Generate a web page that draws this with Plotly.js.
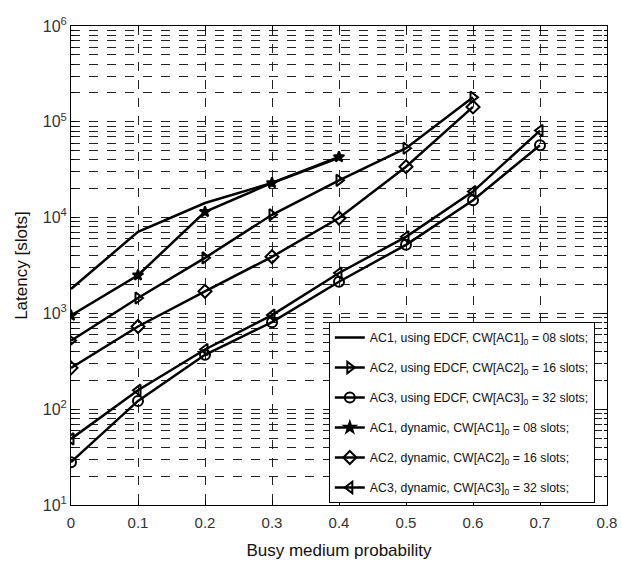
<!DOCTYPE html>
<html>
<head>
<meta charset="utf-8">
<script src="https://cdn.plot.ly/plotly-3.0.1.min.js"></script>
<style>html,body{margin:0;padding:0;background:#fff;}#chart{width:621px;height:567px;}</style>
</head>
<body>
<div id="chart"></div>
<script>
const xAC1 = [0, 0.1, 0.2, 0.3, 0.4];
const xAC2 = [0, 0.1, 0.2, 0.3, 0.4, 0.5, 0.6];
const xAC3 = [0, 0.1, 0.2, 0.3, 0.4, 0.5, 0.6, 0.7];

const ac1Edcf = [1800, 7100, 14200, 23000, 42000];
const ac2Edcf = [520, 1450, 3800, 10700, 24500, 53000, 180000];
const ac3Edcf = [28, 122, 370, 810, 2140, 5200, 15200, 57000];
const ac1Dyn = [950, 2500, 11500, 23000, 43000];
const ac2Dyn = [270, 730, 1700, 3900, 9900, 34000, 143000];
const ac3Dyn = [49, 158, 420, 960, 2640, 6300, 18700, 81000];

const names = [
  'AC1, using EDCF, CW[AC1]<sub>0</sub> = 08 slots;',
  'AC2, using EDCF, CW[AC2]<sub>0</sub> = 16 slots;',
  'AC3, using EDCF, CW[AC3]<sub>0</sub> = 32 slots;',
  'AC1, dynamic, CW[AC1]<sub>0</sub> = 08 slots;',
  'AC2, dynamic, CW[AC2]<sub>0</sub> = 16 slots;',
  'AC3, dynamic, CW[AC3]<sub>0</sub> = 32 slots;'
];

const xTickVals = [0, 0.1, 0.2, 0.3, 0.4, 0.5, 0.6, 0.7, 0.8];
const xTickText = ['0', '0.1', '0.2', '0.3', '0.4', '0.5', '0.6', '0.7', '0.8'];
const yTickVals = [10, 100, 1000, 10000, 100000, 1000000];
const yTickText = ['10<sup>1</sup>', '10<sup>2</sup>', '10<sup>3</sup>', '10<sup>4</sup>', '10<sup>5</sup>', '10<sup>6</sup>'];

function tr(x, y, name, symbol, size, group) {
  const t = {
    x: x, y: y, name: name, type: 'scatter',
    legendgroup: group,
    line: {color: '#000', width: 2.5},
    mode: symbol ? 'lines+markers' : 'lines'
  };
  if (symbol) {
    t.marker = {symbol: symbol, size: size, color: '#000',
      line: {color: '#000', width: 2}};
  }
  return t;
}

const data = [
  tr(xAC1, ac1Edcf, names[0], null, 0, 'g1'),
  tr(xAC2, ac2Edcf, names[1], 'triangle-right-open', 10, 'g2'),
  tr(xAC3, ac3Edcf, names[2], 'circle-open', 10, 'g3'),
  tr(xAC1, ac1Dyn, names[3], 'star', 8, 'g4'),
  tr(xAC2, ac2Dyn, names[4], 'diamond-open', 10, 'g5'),
  tr(xAC3, ac3Dyn, names[5], 'triangle-left-open', 10, 'g6')
];

const gridCol = '#222';
const layout = {
  width: 621, height: 567,
  margin: {l: 71, r: 14, t: 26, b: 62},
  paper_bgcolor: '#fff', plot_bgcolor: '#fff',
  font: {family: 'Liberation Sans, Arial, sans-serif', color: '#222'},
  showlegend: true,
  legend: {
    x: 0.481, y: 0.382, xanchor: 'left', yanchor: 'top',
    bgcolor: '#fff', bordercolor: '#000', borderwidth: 1,
    font: {size: 12.3, color: '#111'},
    traceorder: 'grouped', tracegroupgap: 11,
    itemwidth: 30
  },
  xaxis: {
    range: [0, 0.8],
    tickvals: xTickVals, ticktext: xTickText,
    showgrid: true, gridcolor: gridCol, griddash: 'dash', gridwidth: 1,
    zeroline: false,
    showline: true, linecolor: '#000', linewidth: 1, mirror: 'ticks',
    ticks: 'inside', ticklen: 5, tickcolor: '#000',
    ticklabelstandoff: 4,
    tickfont: {size: 15, color: '#333'},
    title: {text: 'Busy medium probability', font: {size: 17, color: '#111'}, standoff: 14}
  },
  yaxis: {
    type: 'log',
    range: [1, 6],
    tickvals: yTickVals, ticktext: yTickText,
    showgrid: true, gridcolor: gridCol, griddash: 'dash', gridwidth: 1,
    zeroline: false,
    showline: true, linecolor: '#000', linewidth: 1, mirror: 'ticks',
    ticks: 'inside', ticklen: 5, tickcolor: '#000',
    tickfont: {size: 16, color: '#333'},
    minor: {dtick: 'D1', showgrid: true, gridcolor: gridCol, griddash: 'dash', gridwidth: 1,
      ticks: 'inside', ticklen: 3, tickcolor: '#000'},
    title: {text: 'Latency [slots]', font: {size: 17, color: '#111'}, standoff: 10}
  }
};

Plotly.newPlot('chart', data, layout, {displayModeBar: false, staticPlot: true});
</script>
</body>
</html>
